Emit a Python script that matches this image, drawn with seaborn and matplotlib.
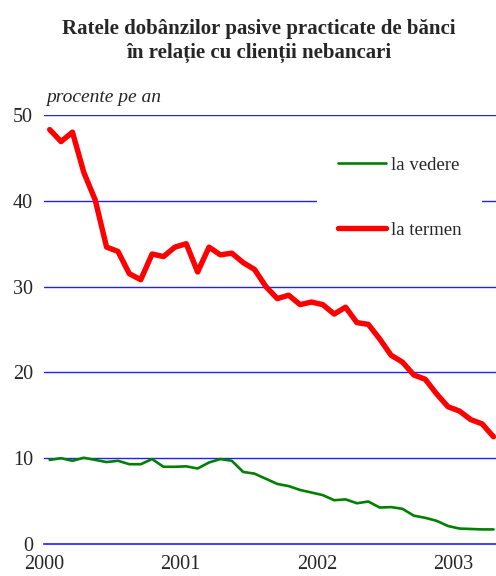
import numpy as np
import pandas as pd
import matplotlib
matplotlib.use("Agg")
import matplotlib.pyplot as plt
import seaborn as sns

# monthly series, Jan 2000 - Apr 2003
years = [2000, 2001, 2002, 2003]
la_vedere = [9.8, 10.0, 9.7, 10.05, 9.8, 9.55, 9.7, 9.3, 9.3, 9.9, 9.0, 9.0,
             9.05, 8.8, 9.5, 9.9, 9.7, 8.4, 8.2, 7.6, 7.0, 6.75, 6.3, 6.0,
             5.7, 5.1, 5.2, 4.75, 4.95, 4.25, 4.3, 4.1, 3.3, 3.05, 2.7, 2.1,
             1.8, 1.75, 1.7, 1.7]
la_termen = [48.3, 46.9, 48.0, 43.3, 40.1, 34.6, 34.1, 31.5, 30.8, 33.8, 33.5, 34.6,
             35.0, 31.7, 34.6, 33.7, 33.9, 32.8, 32.0, 30.0, 28.6, 29.0, 27.9, 28.2,
             27.9, 26.8, 27.6, 25.8, 25.6, 23.9, 22.0, 21.2, 19.7, 19.2, 17.5, 16.0,
             15.5, 14.5, 14.0, 12.5]

# months plotted mid-month on a fractional-year axis
t = 2000 + (np.arange(len(la_termen)) + 0.5) / 12
df = pd.DataFrame({"t": t, "la vedere": la_vedere, "la termen": la_termen})

sns.set_style("white")
plt.rcParams["font.family"] = ["Liberation Serif", "DejaVu Serif"]

fig = plt.figure(figsize=(4.96, 5.76), dpi=100)
ax = fig.add_axes([44 / 496, 1 - 544 / 576, 1 - 44 / 496, (544 - 115) / 576])

for y in [10, 20, 30, 40, 50]:
    ax.axhline(y, color="#2020ff", lw=1, zorder=0)

sns.lineplot(data=df, x="t", y="la vedere", ax=ax, color="#008000", lw=1.9,
             label="la vedere", solid_joinstyle="round")
sns.lineplot(data=df, x="t", y="la termen", ax=ax, color="#ff0000", lw=3.9,
             label="la termen", solid_joinstyle="round", solid_capstyle="round")

ax.set_xlim(2000, 2003.31)
ax.set_ylim(0, 50)
ax.set_xticks(years)
ax.set_xticklabels([str(y) for y in years])
ax.set_yticks([0, 10, 20, 30, 40, 50])
ax.set_xlabel("")
ax.set_ylabel("")
for s in ["top", "right", "left"]:
    ax.spines[s].set_visible(False)
ax.spines["bottom"].set_color("#2020ff")
ax.spines["bottom"].set_linewidth(1.2)
ax.tick_params(axis="x", direction="out", length=6, width=1, color="#2020ff",
               labelsize=14.5, pad=2)
ax.tick_params(axis="y", length=0, labelsize=14.5, pad=8)

leg = ax.legend(loc="upper left", bbox_to_anchor=(0.604, 0.951), frameon=True,
                facecolor="white", edgecolor="white", framealpha=1,
                fontsize=13.5, handlelength=2.6, handletextpad=0.25,
                labelspacing=2.55, borderpad=1.1, borderaxespad=0)
leg.get_frame().set_linewidth(0)

fig.text(44 / 496 + 0.005, 1 - 98 / 576, "procente pe an", style="italic", fontsize=14,
         va="center", ha="left")
fig.text(0.522, 1 - 41 / 576,
         "Ratele dobânzilor pasive practicate de bănci\nîn relație cu clienții nebancari",
         ha="center", va="center", fontsize=15, fontweight="bold", linespacing=1.25)

fig.savefig("out.png", dpi=100)
